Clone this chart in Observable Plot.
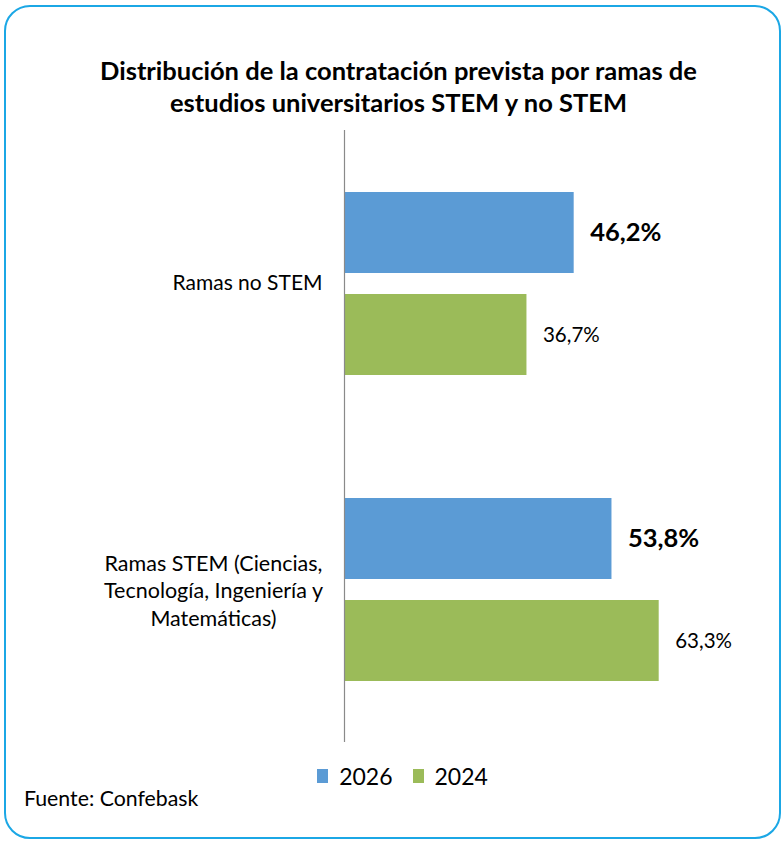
<!DOCTYPE html>
<html>
<head>
<meta charset="utf-8">
<script src="https://cdn.jsdelivr.net/npm/d3@7"></script>
<script src="https://cdn.jsdelivr.net/npm/@observablehq/plot@0.6"></script>
<style>
  body { margin: 0; background: #fff; font-family: Lato, "Open Sans", sans-serif; color: #000; }
  #wrap { position: relative; width: 781px; height: 841px; overflow: hidden; background: #fff; }
  #border { position: absolute; left: 4px; top: 5px; width: 777px; height: 834px; border: 2px solid #1BA7E5; border-radius: 26px; box-sizing: border-box; }
  #title { position: absolute; left: 16px; width: 765px; top: 54px; text-align: center; font-weight: bold; font-size: 25.5px; line-height: 32px; }
  #chart { position: absolute; left: 0; top: 130px; }
  #legend { position: absolute; left: 0; width: 781px; top: 761px; display: flex; justify-content: center; align-items: center; font-size: 23px; line-height: 30px; padding-left: 24px; box-sizing: border-box; }
  .item { display: flex; align-items: center; margin: 0 10px; }
  .sw { display: inline-block; width: 11px; height: 14px; margin-right: 11px; }
  #caption { position: absolute; left: 24px; top: 784px; font-size: 21.3px; line-height: 28px; }
</style>
</head>
<body>
<div id="wrap">
  <div id="border"></div>
  <div id="title">Distribución de la contratación prevista por ramas de<br>estudios universitarios STEM y no STEM</div>
  <div id="chart"></div>
  <div id="legend"></div>
  <div id="caption">Fuente: Confebask</div>
</div>
<script>
const categories = ["Ramas no STEM", "Ramas STEM (Ciencias,\nTecnología, Ingeniería y\nMatemáticas)"];
const years = ["2026", "2024"];
const values2026 = [46.2, 53.8];
const values2024 = [36.7, 63.3];
const colors = ["#5B9BD5", "#9BBB59"];

const data = categories.flatMap((c, i) => [
  {cat: c, year: years[0], v: values2026[i]},
  {cat: c, year: years[1], v: values2024[i]}
]);
const fmt = v => v.toFixed(1).replace(".", ",") + "%";

const chart = Plot.plot({
  width: 781,
  height: 612,
  marginLeft: 344,
  marginRight: 89,
  marginTop: 0,
  marginBottom: 0,
  style: {fontFamily: "Lato, sans-serif", background: "transparent", overflow: "visible"},
  x: {domain: [0, 70], axis: null},
  y: {domain: years, axis: null, paddingInner: 0.206, paddingOuter: 0.598},
  fy: {domain: categories, axis: null, padding: 0},
  color: {domain: years, range: colors},
  marks: [
    Plot.barX(data, {x: "v", y: "year", fy: "cat", fill: "year"}),
    Plot.text(data.filter(d => d.year === years[0]), {x: "v", y: "year", fy: "cat", text: d => fmt(d.v), textAnchor: "start", dx: 16, fontWeight: "bold", fontSize: 25.5, fill: "#000"}),
    Plot.text(data.filter(d => d.year === years[1]), {x: "v", y: "year", fy: "cat", text: d => fmt(d.v), textAnchor: "start", dx: 16, fontSize: 20.5, fill: "#000"}),
    Plot.ruleX([0], {stroke: "#8a8a8a", strokeWidth: 1.2}),
    Plot.text([categories[0]], {fy: d => d, text: d => d, frameAnchor: "left", dx: -97, textAnchor: "middle", fontSize: 21, fill: "#000"}),
    Plot.text([categories[1]], {fy: d => d, text: d => d, frameAnchor: "left", dx: -131, textAnchor: "middle", fontSize: 21.5, lineHeight: 1.3, fill: "#000"})
  ]
});
document.getElementById("chart").appendChild(chart);

const legend = document.getElementById("legend");
years.forEach((y, i) => {
  const it = document.createElement("span");
  it.className = "item";
  const sw = document.createElement("span");
  sw.className = "sw";
  sw.style.background = colors[i];
  it.appendChild(sw);
  it.appendChild(document.createTextNode(y));
  legend.appendChild(it);
});
</script>
</body>
</html>
